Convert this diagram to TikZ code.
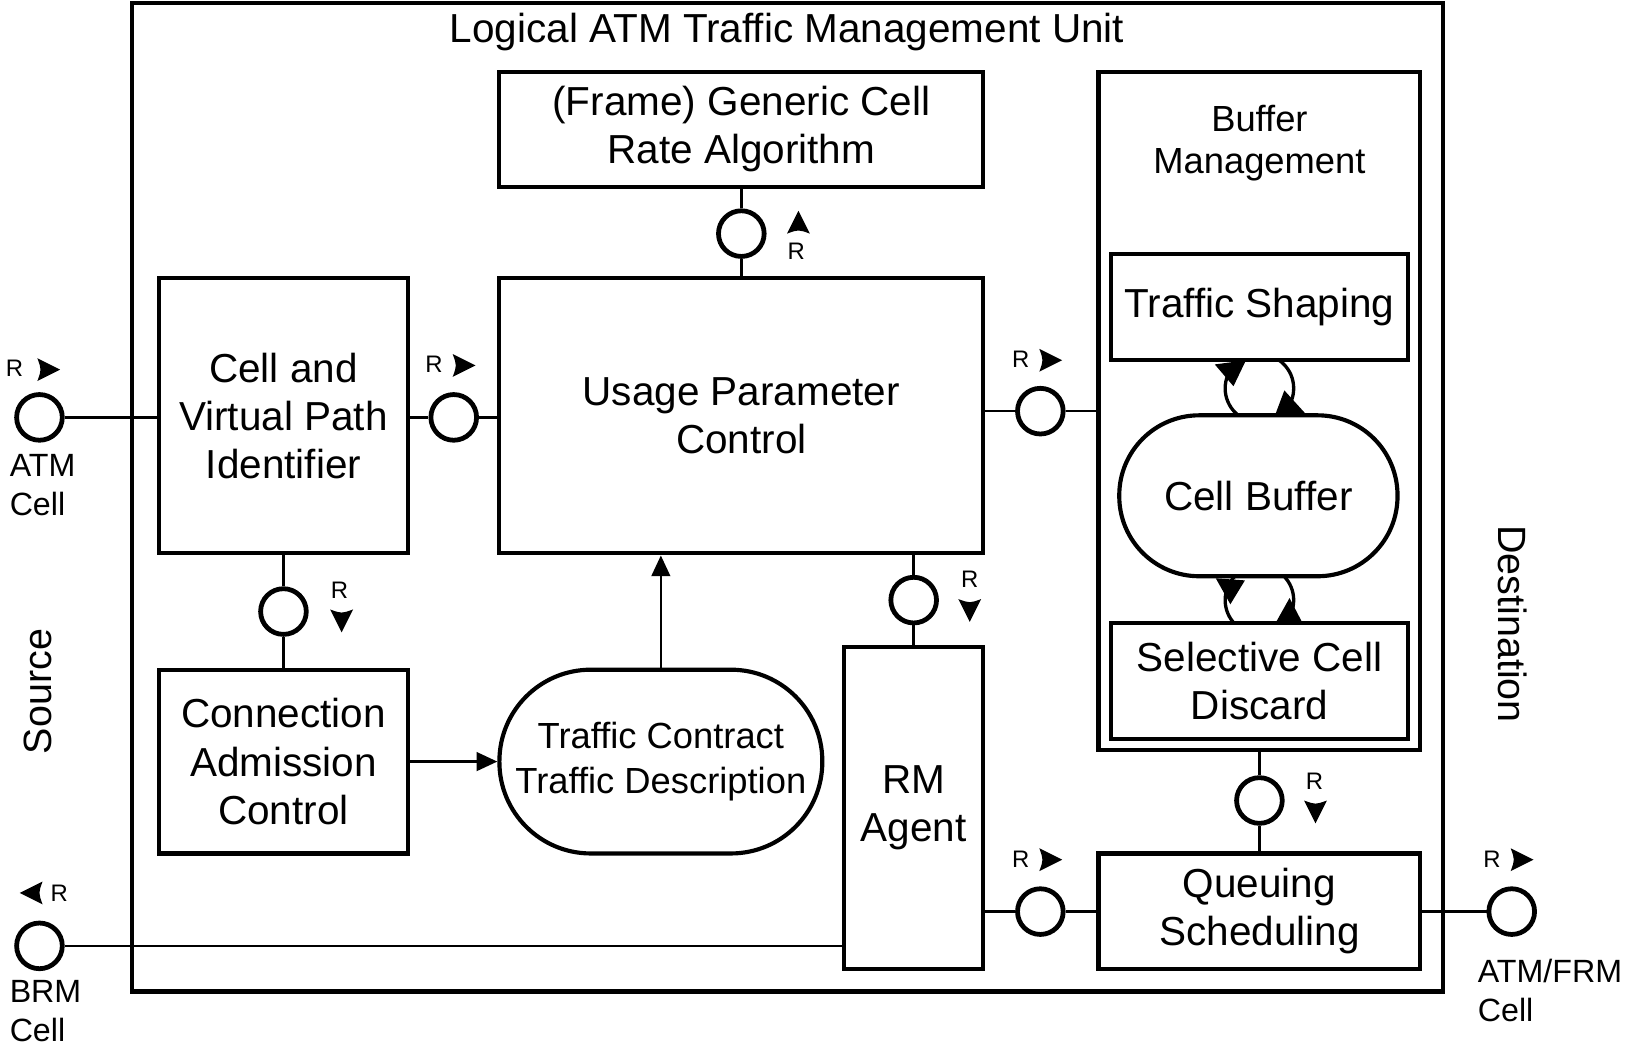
\documentclass[tikz,border=0pt]{standalone}
\usepackage{fontspec}
\setmainfont{Liberation Sans}
\usetikzlibrary{arrows.meta}
\begin{document}
\begin{tikzpicture}[x=0.5pt,y=-0.5pt,
  box/.style={draw,line width=2pt,fill=white,align=center,inner sep=0pt,
    font=\fontsize{19.5}{23.25}\selectfont},
  smallbox/.style={box,font=\fontsize{17.5}{21.5}\selectfont},
  port/.style={circle,draw,line width=2.3pt,fill=white,minimum size=22pt,inner sep=0pt},
  wire/.style={line width=1.2pt},
  flow/.style={wire,-{Triangle[length=10pt,width=9pt]}},
  rlab/.style={font=\fontsize{11.5}{13}\selectfont,inner sep=0pt},
  plab/.style={font=\fontsize{15.5}{18.5}\selectfont,align=left,inner sep=0pt,anchor=west},
  side/.style={font=\fontsize{19}{22}\selectfont,inner sep=0pt},
  rtri/.pic={\fill (12,0) -- (-10,-11) .. controls (-6,0) .. (-10,11) -- cycle;}
]
\useasboundingbox (0,0) rectangle (1568,1007);

% enclosing unit
\node[draw,line width=2pt,minimum width=631.5pt,minimum height=476pt,inner sep=0pt]
  (unit) at (758.5,479) {};
\node[inner sep=0pt,font=\fontsize{19.5}{23.25}\selectfont] (title) at (758,31)
  {Logical ATM Traffic Management Unit};

% function blocks
\node[box,minimum width=233pt,minimum height=55.5pt] (gcra) at (714,124.5)
  {(Frame) Generic Cell\\Rate Algorithm};
\node[box,minimum width=233pt,minimum height=132.5pt] (upc) at (714,400.5)
  {Usage Parameter\\Control};
\node[box,minimum width=120pt,minimum height=132.5pt] (cvpi) at (273,400.5)
  {Cell and\\Virtual Path\\Identifier};
\node[box,minimum width=120pt,minimum height=88.5pt] (cac) at (273,733.5)
  {Connection\\Admission\\Control};
\node[smallbox,rounded corners=44pt,minimum width=155.5pt,minimum height=88.5pt] (tc)
  at (636.5,733.5) {Traffic Contract\\Traffic Description};
\node[box,minimum width=67pt,minimum height=155pt] (rm) at (880,778) {RM\\Agent};
\node[box,minimum width=155pt,minimum height=326.5pt] (bm) at (1213,395.5) {};
\node[smallbox,draw=none,fill=none,font=\fontsize{17.5}{20.5}\selectfont] (bmlab)
  at (1213,138) {Buffer\\Management};

% cyclic exchange between buffer and its neighbours
\draw[line width=1.6pt] (1213,374) circle[radius=33];
\draw[line width=1.6pt] (1213,578) circle[radius=33];

\node[box,minimum width=143pt,minimum height=51pt] (ts) at (1213,296) {Traffic Shaping};
\node[box,rounded corners=38.5pt,minimum width=134pt,minimum height=77.5pt] (cb)
  at (1212,477.5) {Cell Buffer};
\node[box,minimum width=143pt,minimum height=56pt] (scd) at (1213,656)
  {Selective Cell\\Discard};
\node[box,minimum width=155pt,minimum height=55.5pt] (qs) at (1213,877.5)
  {Queuing\\Scheduling};

\fill (1200,347) -- (1170,351) -- (1188,372) -- cycle;
\fill (1228,400) -- (1237,376) -- (1257,398) -- cycle;
\fill (1185,582) -- (1171,557) -- (1199,559) -- cycle;
\fill (1242,576) -- (1228,601) -- (1255,601) -- cycle;

% reference points
\node[port] (pin) at (38,402) {};
\node[port] (pcv) at (437,402) {};
\node[port] (pgc) at (714,225) {};
\node[port] (pca) at (273,589) {};
\node[port] (prm) at (880,578) {};
\node[port] (pbm) at (1002,396) {};
\node[port] (pq) at (1213,771) {};
\node[port] (prq) at (1002,878) {};
\node[port] (pout) at (1456,878) {};
\node[port] (pbrm) at (38,911) {};

% connectors
\draw[wire] (pin.east) -- (pin.east -| cvpi.west);
\draw[wire] (pcv.west -| cvpi.east) -- (pcv.west);
\draw[wire] (pcv.east) -- (pcv.east -| upc.west);
\draw[wire] (gcra.south) -- (pgc.north);
\draw[wire] (pgc.south) -- (upc.north);
\draw[wire] (cvpi.south) -- (pca.north);
\draw[wire] (pca.south) -- (cac.north);
\draw[wire] (upc.south -| prm) -- (prm.north);
\draw[wire] (prm.south) -- (rm.north);
\draw[wire] (upc.east |- pbm) -- (pbm.west);
\draw[wire] (pbm.east) -- (pbm.east -| bm.west);
\draw[wire] (bm.south) -- (pq.north);
\draw[wire] (pq.south) -- (qs.north);
\draw[wire] (rm.east |- prq) -- (prq.west);
\draw[wire] (prq.east) -- (prq.east -| qs.west);
\draw[wire] (qs.east |- pout) -- (pout.west);
\draw[wire] (pbrm.east) -- (pbrm.east -| rm.west);
\draw[flow] (cac.east) -- (tc.west);
\draw[flow] (tc.north) -- (tc.north |- upc.south);

% R markers with direction
\node[rlab] (r1) at (14,355) {R};   \pic at (46,356) {rtri};
\node[rlab] (r2) at (418,351) {R};  \pic at (446,352) {rtri};
\node[rlab] (r3) at (767,242) {R};  \pic[rotate=90] at (769,215) {rtri};
\node[rlab] (r4) at (327,569) {R};  \pic[rotate=-90] at (329,597) {rtri};
\node[rlab] (r5) at (934,558) {R};  \pic[rotate=-90] at (934,587) {rtri};
\node[rlab] (r6) at (983,346) {R};  \pic at (1011,347) {rtri};
\node[rlab] (r7) at (1266,752) {R}; \pic[rotate=-90] at (1267,781) {rtri};
\node[rlab] (r8) at (983,828) {R};  \pic at (1011,828) {rtri};
\node[rlab] (r9) at (1437,828) {R}; \pic at (1465,828) {rtri};
\node[rlab] (r10) at (57,860) {R};  \pic[rotate=180] at (31,860) {rtri};

% port labels
\node[plab] (lin) at (9,467) {ATM\\Cell};
\node[plab] (lbrm) at (9,974) {BRM\\Cell};
\node[plab] (lout) at (1423,954) {ATM/FRM\\Cell};
\node[side,rotate=90] (src) at (37,666) {Source};
\node[side,rotate=-90] (dst) at (1457,601) {Destination};
\end{tikzpicture}
\end{document}
